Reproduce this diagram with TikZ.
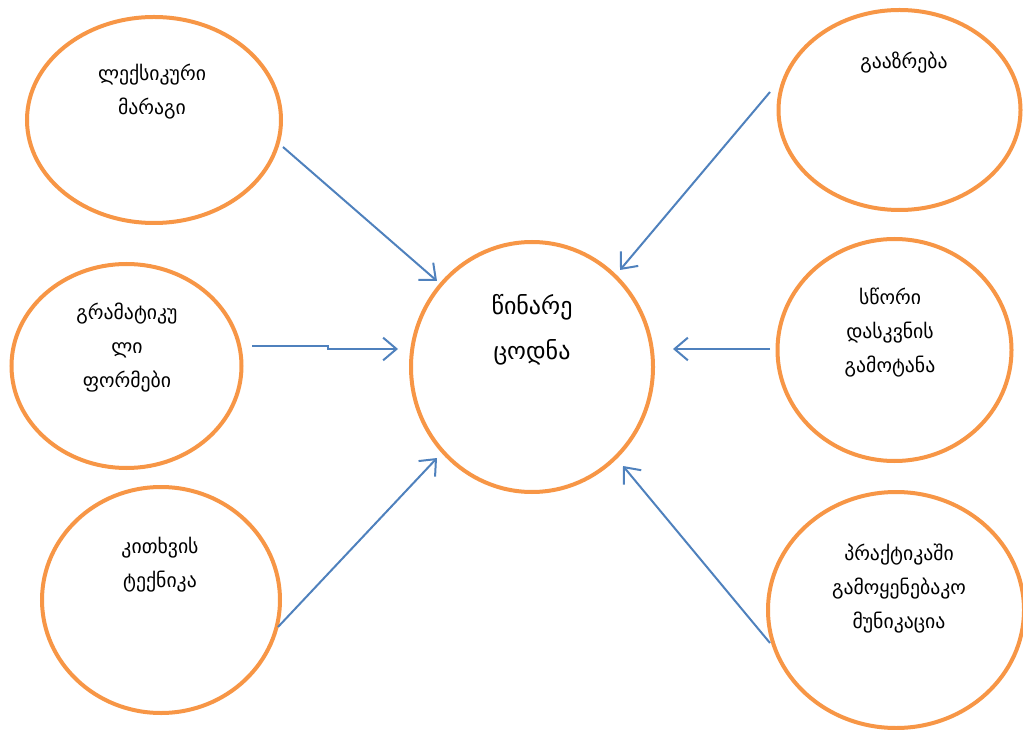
\documentclass[tikz,border=0pt]{standalone}
\usepackage{fontspec}
\setmainfont{DejaVu Sans}
\usetikzlibrary{shapes.geometric,arrows.meta}
\definecolor{ovalorange}{HTML}{F79646}
\definecolor{arrowblue}{HTML}{4F81BD}
\tikzset{
  oval/.style 2 args={ellipse, draw=ovalorange, line width=3pt, fill=white,
    minimum width=#1*1.5pt, minimum height=#2*1.5pt, inner sep=0pt},
  lbl/.style={align=center, font=\fontsize{14.8}{25.5}\selectfont, inner sep=0pt},
  biglbl/.style={align=center, font=\fontsize{18}{34}\selectfont, inner sep=0pt},
  conn/.style={draw=arrowblue, line width=1.5pt,
    -{Straight Barb[length=10pt,width=17pt,line width=1.5pt]}},
}
\begin{document}
\begin{tikzpicture}[x=0.75pt,y=-0.75pt]
\useasboundingbox (0,0) rectangle (1023,730);
\clip (0,0) rectangle (1023,730);
% ovals
\node[oval={127}{103}] (e1) at (154,120) {};
\node[oval={115}{102}] (e2) at (126.5,366) {};
\node[oval={119}{113}] (e3) at (161,600) {};
\node[oval={121}{125}] (c)  at (532,367) {};
\node[oval={121}{100}] (e5) at (899.5,110) {};
\node[oval={117}{111}] (e6) at (894.5,350) {};
\node[oval={128}{118}] (e7) at (896,610) {};
% texts
\node[lbl] (t1) at (152,92) {ლექსიკური\\მარაგი};
\node[lbl] (t2) at (127,348) {გრამატიკუ\\ლი\\ფორმები};
\node[lbl] (t3) at (160,565) {კითხვის\\ტექნიკა};
\node[biglbl] (t4) at (532,330) {წინარე\\ცოდნა};
\node[lbl] (t5) at (904,63) {გააზრება};
\node[lbl] (t6) at (890,333) {სწორი\\დასკვნის\\გამოტანა};
\node[lbl] (t7) at (899,589) {პრაქტიკაში\\გამოყენებაკო\\მუნიკაცია};
% connector end points near the ovals
\coordinate (a1s) at (283,147); \coordinate (a1e) at (437,281);
\coordinate (a2s) at (252,346); \coordinate (a2e) at (398,349);
\coordinate (a3s) at (278,627); \coordinate (a3e) at (437,458);
\coordinate (a5s) at (770,92);  \coordinate (a5e) at (620,270);
\coordinate (a6s) at (770,349); \coordinate (a6e) at (673,349);
\coordinate (a7s) at (770,643); \coordinate (a7e) at (623,466);
\draw[conn] (a1s) -- (a1e);
\draw[conn] (a2s) -- (328,346) -- (328,349) -- (a2e);
\draw[conn] (a3s) -- (a3e);
\draw[conn] (a5s) -- (a5e);
\draw[conn] (a6s) -- (a6e);
\draw[conn] (a7s) -- (a7e);
\end{tikzpicture}
\end{document}
